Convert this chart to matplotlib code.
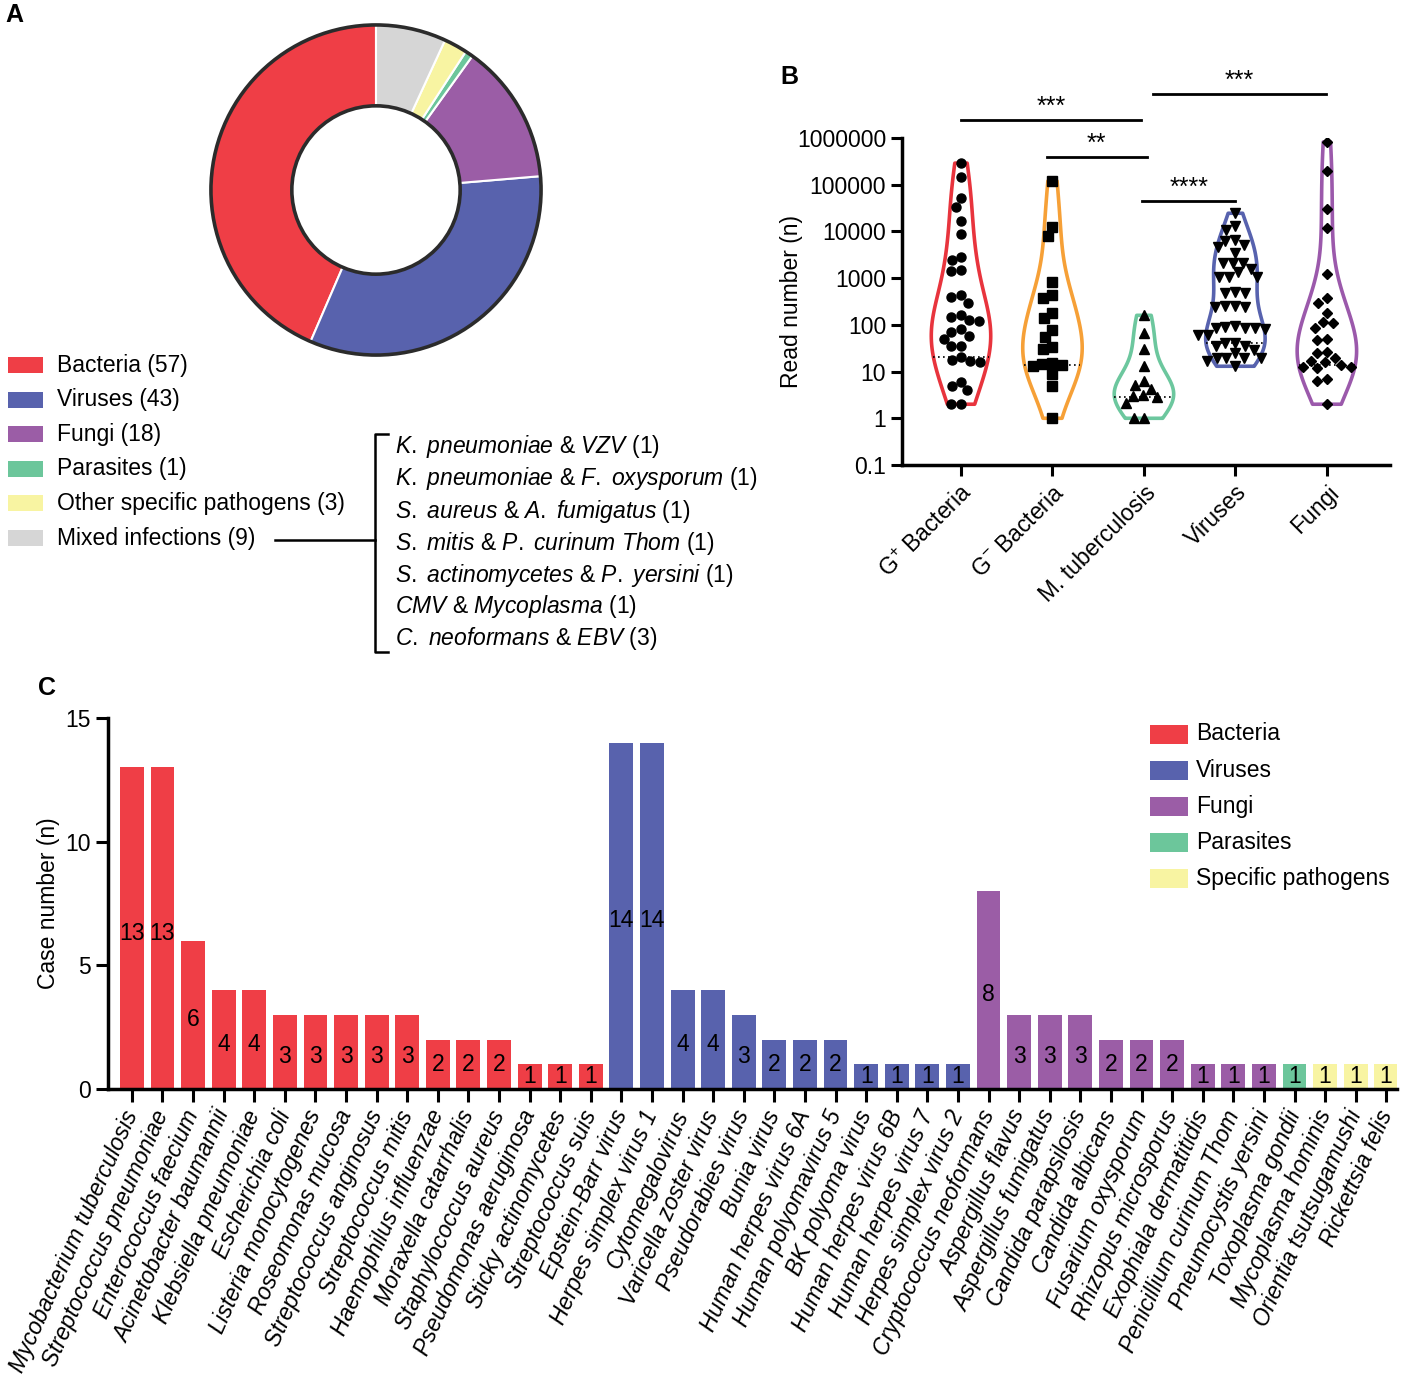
import numpy as np
import matplotlib
matplotlib.use("Agg")
import matplotlib.pyplot as plt
from matplotlib.patches import Rectangle
from matplotlib.lines import Line2D

plt.rcParams['font.family'] = ['Liberation Sans', 'DejaVu Sans']
plt.rcParams['mathtext.fontset'] = 'custom'
plt.rcParams['mathtext.rm'] = 'Liberation Sans'
plt.rcParams['mathtext.it'] = 'Liberation Sans:italic'
plt.rcParams['mathtext.bf'] = 'Liberation Sans:bold'

W, H = 1408, 1380
FS = 16.5

# ---- panel A data
pie_labels = ['Bacteria', 'Viruses', 'Fungi', 'Parasites',
              'Other specific pathogens', 'Mixed infections']
pie_counts = [57, 43, 18, 1, 3, 9]
pie_colors = ['#EF3E46', '#5862AD', '#9B5DA6', '#6CC69B', '#F8F4A2', '#D6D6D6']

mixed_a = ['K. pneumoniae', 'K. pneumoniae', 'S. aureus', 'S. mitis',
           'S. actinomycetes', 'CMV', 'C. neoformans']
mixed_b = ['VZV', 'F. oxysporum', 'A. fumigatus', 'P. curinum Thom',
           'P. yersini', 'Mycoplasma', 'EBV']
mixed_n = [1, 1, 1, 1, 1, 1, 3]

# ---- panel B data (read numbers)
b_groups = ['G$^{+}$ Bacteria', 'G$^{-}$ Bacteria', 'M. tuberculosis', 'Viruses', 'Fungi']
b_colors = ['#E8343D', '#F6A037', '#6CC79E', '#5762AE', '#9B59AB']
b_markers = ['o', 's', '^', 'v', 'D']
gpos_reads = [290000, 145000, 51000, 33000, 17000, 9000, 2400, 2900, 1500, 1400,
              400, 430, 300, 150, 165, 125, 120, 70, 80, 50, 58, 35, 36, 21,
              16, 18, 17, 6, 5, 4, 2, 2]
gneg_reads = [120000, 12500, 8000, 830, 380, 440, 180, 140, 78, 56, 34, 30,
              15, 13.5, 14.5, 13, 9, 5, 1]
mtb_reads = [160, 68, 31, 13, 6.2, 5.2, 4.3, 2.95, 3.1, 2.9, 2.1, 1, 1]
virus_reads = [24500, 12900, 10700, 6200, 6500, 4600, 5200, 3400, 1550, 2100,
               2100, 2100, 1350, 1050, 1050, 1050, 500, 480, 480, 250, 240, 240,
               250, 81, 85, 85, 93, 89, 85, 60, 60, 36, 41, 41, 36, 29, 20, 20,
               25, 20, 17, 20, 13]
fungi_reads = [820000, 198000, 30000, 11800, 1200, 290, 370, 180, 107, 115, 85,
               51, 47, 26, 25, 20, 17, 16, 12.3, 11.7, 12.3, 13.5, 6.9, 6.2, 2]
b_data = [gpos_reads, gneg_reads, mtb_reads, virus_reads, fungi_reads]
sig_bars = [(0, 1.97, 6.38, '***'), (0.94, 2.03, 5.59, '**'),
            (1.98, 3.0, 4.66, '****'), (2.1, 3.99, 6.95, '***')]

# ---- panel C data
c_names = ['Mycobacterium tuberculosis', 'Streptococcus pneumoniae', 'Enterococcus faecium',
           'Acinetobacter baumannii', 'Klebsiella pneumoniae', 'Escherichia coli',
           'Listeria monocytogenes', 'Roseomonas mucosa', 'Streptococcus anginosus',
           'Streptococcus mitis', 'Haemophilus influenzae', 'Moraxella catarrhalis',
           'Staphylococcus aureus', 'Pseudomonas aeruginosa', 'Sticky actinomycetes',
           'Streptococcus suis',
           'Epstein-Barr virus', 'Herpes simplex virus 1', 'Cytomegalovirus',
           'Varicella zoster virus', 'Pseudorabies virus', 'Bunia virus',
           'Human herpes virus 6A', 'Human polyomavirus 5', 'BK polyoma virus',
           'Human herpes virus 6B', 'Human herpes virus 7', 'Herpes simplex virus 2',
           'Cryptococcus neoformans', 'Aspergillus flavus', 'Aspergillus fumigatus',
           'Candida parapsilosis', 'Candida albicans', 'Fusarium oxysporum',
           'Rhizopus microsporus', 'Exophiala dermatitidis', 'Penicillium curinum Thom',
           'Pneumocystis yersini',
           'Toxoplasma gondii',
           'Mycoplasma hominis', 'Orientia tsutsugamushi', 'Rickettsia felis']
c_counts = [13, 13, 6, 4, 4, 3, 3, 3, 3, 3, 2, 2, 2, 1, 1, 1,
            14, 14, 4, 4, 3, 2, 2, 2, 1, 1, 1, 1,
            8, 3, 3, 3, 2, 2, 2, 1, 1, 1,
            1,
            1, 1, 1]
c_groups = ['Bacteria'] * 16 + ['Viruses'] * 12 + ['Fungi'] * 10 + ['Parasites'] + ['Specific pathogens'] * 3
c_legend = ['Bacteria', 'Viruses', 'Fungi', 'Parasites', 'Specific pathogens']
c_colors = dict(zip(c_legend, ['#EF3E46', '#5862AD', '#9B5DA6', '#6CC69B', '#F8F4A2']))


def px(l, t, r, b):
    return [l / W, 1 - b / H, (r - l) / W, (b - t) / H]


def fxy(x, y):
    return x / W, 1 - y / H


def swarm(vals, d=10.0, ypx=46.7, xpx=91.5):
    # simple beeswarm: place points as close to the centre as possible
    yp = np.asarray(vals) * ypx
    offs = np.zeros(len(yp))
    done = []
    for i in np.argsort(yp)[::-1]:
        blocked = []
        for j in done:
            dy = abs(yp[i] - yp[j])
            if dy < d:
                h = np.sqrt(d * d - dy * dy)
                blocked.append((offs[j] - h, offs[j] + h))
        cands = sorted([0.0] + [e for iv in blocked for e in iv], key=lambda c: (abs(c), c))
        for c in cands:
            if all(not (lo + 1e-6 < c < hi - 1e-6) for lo, hi in blocked):
                offs[i] = c
                break
        done.append(i)
    return offs / xpx


def kde_half(d, y, width):
    d = np.asarray(d)
    bw = d.std(ddof=1) * len(d) ** (-0.2)
    dens = lambda t: np.exp(-0.5 * ((np.atleast_1d(t)[:, None] - d[None, :]) / bw) ** 2).sum(1)
    grid = np.linspace(d.min(), d.max(), 100)
    return width / 2 * dens(y)[0] / dens(grid).max()


fig = plt.figure(figsize=(W / 100, H / 100), dpi=100)

# ================= A
axa = fig.add_axes(px(206, 20, 546, 360))
axa.pie(pie_counts, colors=pie_colors, startangle=90, counterclock=True,
        radius=1.0, wedgeprops=dict(width=0.49, edgecolor='white', linewidth=1.5))
for r in (1.0, 0.51):
    axa.add_patch(plt.Circle((0, 0), r, fill=False, edgecolor='#2b2b2b', linewidth=2.6))
axa.set_xlim(-1.03, 1.03)
axa.set_ylim(-1.03, 1.03)
axa.set_aspect('equal')
axa.axis('off')

for i, (lab, n, col) in enumerate(zip(pie_labels, pie_counts, pie_colors)):
    yc = 365 + 34.6 * i
    x0, y0 = fxy(8, yc + 8)
    fig.patches.append(Rectangle((x0, y0), 35 / W, 16 / H, transform=fig.transFigure,
                                 facecolor=col, edgecolor='none'))
    fig.text(*fxy(57, yc), f'{lab} ({n})', fontsize=FS, va='center', ha='left')

fig.add_artist(Line2D([275 / W, 375 / W], [1 - 540 / H] * 2, color='black', lw=1.8))
fig.add_artist(Line2D([388 / W, 375 / W, 375 / W, 388 / W],
                      [1 - 434 / H, 1 - 434 / H, 1 - 652 / H, 1 - 652 / H], color='black', lw=1.8))
for i, (a, b, n) in enumerate(zip(mixed_a, mixed_b, mixed_n)):
    s = r'$\mathit{' + a.replace(' ', r'\ ') + r'}$ & $\mathit{' + b.replace(' ', r'\ ') + r'}$ (' + str(n) + ')'
    fig.text(*fxy(395, 447 + 32 * i), s, fontsize=FS, va='center', ha='left')

# ================= B
axb = fig.add_axes(px(902, 138, 1390, 465))
logs = [np.log10(v) for v in b_data]
vp = axb.violinplot(logs, positions=range(5), widths=0.65, showextrema=False)
for body, c in zip(vp['bodies'], b_colors):
    body.set_facecolor('none')
    body.set_edgecolor(c)
    body.set_linewidth(2.6)
    body.set_alpha(1)
for k, (lv, m) in enumerate(zip(logs, b_markers)):
    xs = k + swarm(lv)
    ms = 5.6 if m == 'D' else 6.5
    axb.plot(xs, lv, linestyle='none', marker=m, color='black', markersize=ms, zorder=3)
    q1 = np.percentile(lv, 25)
    hw = kde_half(lv, q1, 0.65)
    axb.plot([k - hw, k + hw], [q1, q1], color='black', lw=1.2, linestyle=(0, (1, 2)), zorder=2)
for x1, x2, y, s in sig_bars:
    axb.plot([x1, x2], [y, y], color='black', lw=2, clip_on=False)
    axb.text((x1 + x2) / 2, y + 0.02, s, ha='center', va='bottom', fontsize=18)
axb.set_xlim(-0.645, 4.69)
axb.set_ylim(-1, 6)
axb.set_yticks(range(-1, 7), ['0.1', '1', '10', '100', '1000', '10000', '100000', '1000000'])
axb.set_xticks(range(5), b_groups, rotation=45, ha='right', rotation_mode='anchor')
axb.set_ylabel('Read number (n)', fontsize=FS)
axb.yaxis.set_label_coords(-0.203, 0.5)
for s in ('top', 'right'):
    axb.spines[s].set_visible(False)
for s in ('left', 'bottom'):
    axb.spines[s].set_linewidth(2.5)
axb.tick_params(width=2.2, length=8, labelsize=FS)

# ================= C
axc = fig.add_axes(px(108, 718, 1397, 1089))
xc = np.arange(len(c_names))
bars = axc.bar(xc, c_counts, width=0.78, color=[c_colors[g] for g in c_groups])
for ann, n in zip(axc.bar_label(bars, label_type='center', fontsize=FS), c_counts):
    if n >= 3:
        ann.xyann = (0, -3.5)
axc.set_xlim(-0.78, 41.35)
axc.set_ylim(0, 15)
axc.set_yticks([0, 5, 10, 15])
axc.set_xticks(xc, c_names, rotation=66, ha='right', va='center', rotation_mode='anchor',
               fontstyle='italic', fontsize=15.8)
axc.set_ylabel('Case number (n)', fontsize=FS, labelpad=4)
for s in ('top', 'right'):
    axc.spines[s].set_visible(False)
for s in ('left', 'bottom'):
    axc.spines[s].set_linewidth(2.5)
axc.tick_params(width=2.2, length=9, labelsize=FS)
axc.tick_params(axis='x', pad=7)

for i, g in enumerate(c_legend):
    yc = 734 + 36.2 * i
    x0, y0 = fxy(1150, yc + 9.5)
    fig.patches.append(Rectangle((x0, y0), 38 / W, 19 / H, transform=fig.transFigure,
                                 facecolor=c_colors[g], edgecolor='none'))
    fig.text(*fxy(1196, yc), g, fontsize=FS, va='center', ha='left')

# panel letters
fig.text(*fxy(5, 15), 'A', fontsize=18, fontweight='bold', va='center')
fig.text(*fxy(780, 77), 'B', fontsize=18, fontweight='bold', va='center')
fig.text(*fxy(38, 688), 'C', fontsize=18, fontweight='bold', va='center')

fig.savefig('out.png', dpi=100)
